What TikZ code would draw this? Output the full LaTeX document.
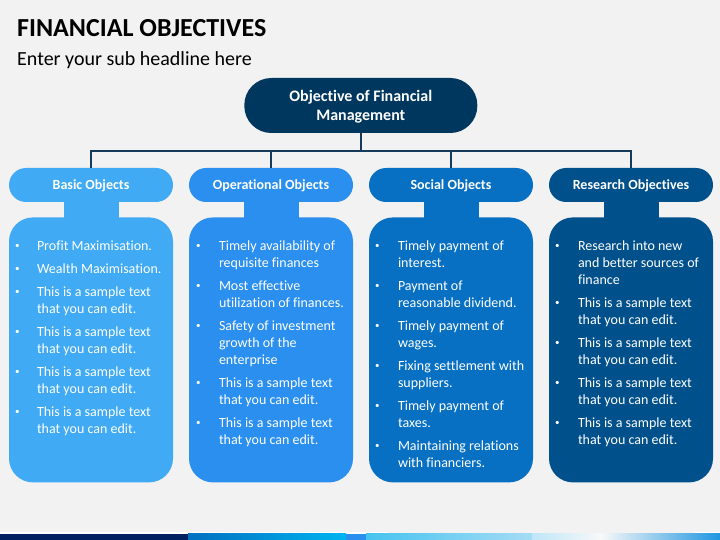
\documentclass[tikz,border=0pt]{standalone}
\usepackage{fontspec}
\setmainfont{Carlito}[Ligatures=NoCommon]
\usetikzlibrary{positioning}
\definecolor{bg}{RGB}{242,242,242}
\definecolor{topc}{RGB}{0,55,95}
\definecolor{linec}{RGB}{22,58,92}
\definecolor{basicc}{RGB}{64,170,244}
\definecolor{operc}{RGB}{42,143,239}
\definecolor{socialc}{RGB}{8,112,194}
\definecolor{resc}{RGB}{0,80,140}
\definecolor{stripA}{RGB}{0,32,96}
\definecolor{stripB}{RGB}{0,112,192}
\definecolor{stripC}{RGB}{0,180,240}
\definecolor{stripD}{RGB}{70,195,240}
\definecolor{stripE}{RGB}{165,220,245}
\definecolor{stripF}{RGB}{190,230,248}
\definecolor{stripG}{RGB}{248,248,248}
\definecolor{stripH}{RGB}{30,150,225}
\newcommand{\bl}{\hspace*{1pt}{\fontsize{9}{9}\selectfont\raisebox{1.6pt}{\textbullet}}}
\begin{document}
\begin{tikzpicture}[x=1pt,y=-1pt,
    head/.style={rounded corners=17pt, minimum width=164pt, minimum height=34pt, inner sep=0pt, text height=10pt, text depth=1pt, text=white, font=\fontsize{14}{16}\selectfont\bfseries},
    body/.style={rounded corners=24pt, minimum width=164pt, minimum height=265pt, inner sep=0pt, below=15pt of #1},
    txt/.style={anchor=north west, inner sep=0pt, text=white, font=\fontsize{14}{17}\selectfont},
    link/.style={draw=linec, line width=2pt}]
\useasboundingbox (0,0) rectangle (720,540);
\fill[bg] (0,0) rectangle (720,540);
% title
\node[anchor=base west, inner sep=0pt, font=\fontsize{26}{30}\selectfont\bfseries] (title) at (17,36.7) {FINANCIAL OBJECTIVES};
\node[anchor=base west, inner sep=0pt, font=\fontsize{20}{24}\selectfont] (sub) at (17,65.5) {Enter your sub headline here};
% top box
\node[fill=topc, rounded corners=27pt, minimum width=233pt, minimum height=55pt, inner sep=0pt, text depth=0pt, text=white, align=center, font=\fontsize{16}{19}\selectfont\bfseries] (top) at (360.8,105.5) {Objective of Financial\\Management};
% headers
\node[head, fill=basicc] (hA) at (91,185) {Basic Objects};
\node[head, fill=operc] (hB) at (271,185) {Operational Objects};
\node[head, fill=socialc] (hC) at (451,185) {Social Objects};
\node[head, fill=resc] (hD) at (631,185) {Research Objectives};
% connectors
\coordinate (bar) at (360.8,151);
\draw[link] (top.south) -- (bar);
\draw[link] (hA.north) -- (hA.north|-bar) -- (hD.north|-bar) -- (hD.north);
\draw[link] (hB.north) -- (hB.north|-bar);
\draw[link] (hC.north) -- (hC.north|-bar);
% bodies
\node[body=hA, fill=basicc] (bA) {};
\node[body=hB, fill=operc] (bB) {};
\node[body=hC, fill=socialc] (bC) {};
\node[body=hD, fill=resc] (bD) {};
\fill[basicc] ([xshift=-27.5pt,yshift=2pt]hA.south) rectangle ([xshift=27.5pt,yshift=-2pt]bA.north);
\fill[operc] ([xshift=-27.5pt,yshift=2pt]hB.south) rectangle ([xshift=27.5pt,yshift=-2pt]bB.north);
\fill[socialc] ([xshift=-27.5pt,yshift=2pt]hC.south) rectangle ([xshift=27.5pt,yshift=-2pt]bC.north);
\fill[resc] ([xshift=-27.5pt,yshift=2pt]hD.south) rectangle ([xshift=27.5pt,yshift=-2pt]bD.north);
% texts
\node[txt] (tA) at ([xshift=5pt,yshift=-21pt]bA.north west) {\begin{tabular}{@{}p{23pt}@{}l@{}}
\bl & Profit Maximisation.\\[6pt]
\bl & Wealth Maximisation.\\[6pt]
\bl & This is a sample text\\ & that you can edit.\\[6pt]
\bl & This is a sample text\\ & that you can edit.\\[6pt]
\bl & This is a sample text\\ & that you can edit.\\[6pt]
\bl & This is a sample text\\ & that you can edit.
\end{tabular}};
\node[txt] (tB) at ([xshift=6pt,yshift=-21pt]bB.north west) {\begin{tabular}{@{}p{24pt}@{}l@{}}
\bl & Timely availability of\\ & requisite finances\\[6pt]
\bl & Most effective\\ & utilization of finances.\\[6pt]
\bl & Safety of investment\\ & growth of the\\ & enterprise\\[6pt]
\bl & This is a sample text\\ & that you can edit.\\[6pt]
\bl & This is a sample text\\ & that you can edit.
\end{tabular}};
\node[txt] (tC) at ([xshift=5pt,yshift=-21pt]bC.north west) {\begin{tabular}{@{}p{24pt}@{}l@{}}
\bl & Timely payment of\\ & interest.\\[6pt]
\bl & Payment of\\ & reasonable dividend.\\[6pt]
\bl & Timely payment of\\ & wages.\\[6pt]
\bl & Fixing settlement with\\ & suppliers.\\[6pt]
\bl & Timely payment of\\ & taxes.\\[6pt]
\bl & Maintaining relations\\ & with financiers.
\end{tabular}};
\node[txt] (tD) at ([xshift=5pt,yshift=-21pt]bD.north west) {\begin{tabular}{@{}p{24pt}@{}l@{}}
\bl & Research into new\\ & and better sources of\\ & finance\\[6pt]
\bl & This is a sample text\\ & that you can edit.\\[6pt]
\bl & This is a sample text\\ & that you can edit.\\[6pt]
\bl & This is a sample text\\ & that you can edit.\\[6pt]
\bl & This is a sample text\\ & that you can edit.
\end{tabular}};
% bottom strip
\fill[white] (0,532) rectangle (388,533.5);
\fill[white] (695,532) rectangle (720,533.5);
\fill[stripA] (0,533.5) rectangle (188,540);
\shade[left color=stripB, right color=stripC] (188,533.5) rectangle (346,540);
\fill[operc] (346,533.5) rectangle (366,540);
\shade[left color=stripD, right color=stripE] (366,533.5) rectangle (532,540);
\shade[left color=stripF, right color=stripG] (532,533.5) rectangle (601,540);
\shade[left color=stripG, right color=stripH] (601,533.5) rectangle (720,540);
\end{tikzpicture}
\end{document}
